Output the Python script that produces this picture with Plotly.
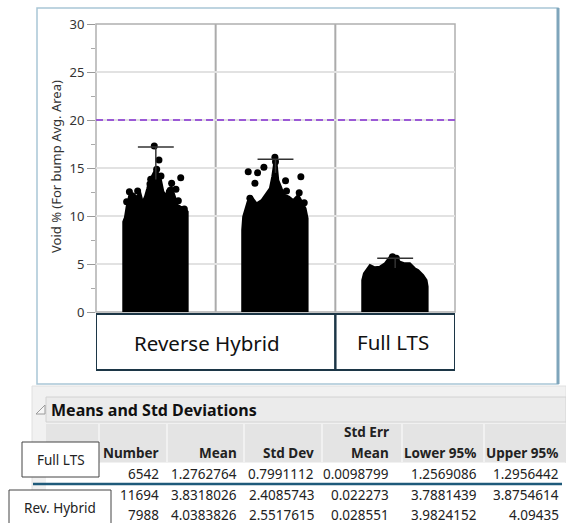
import plotly.graph_objects as go

# ---------------- data ----------------
y_title = "Void % (For bump Avg. Area)"
y_ticks = [0, 5, 10, 15, 20, 25, 30]
limit_line = 20

group_labels = ["Reverse Hybrid", "Full LTS"]
group_spans = [[0, 2], [2, 3]]
group_centers = [0.5, 1.5, 2.5]

# top outline of the dense point cloud (jitter offset, value)
g1_outline_off = [-0.272, -0.258, -0.244, -0.221, -0.194, -0.160, -0.132, -0.110, -0.091, -0.071, -0.054,
                  -0.035, -0.007, 0.021, 0.040, 0.063, 0.085, 0.104, 0.132, 0.160, 0.180, 0.207, 0.244, 0.266]
g1_outline_val = [9.41, 9.86, 10.97, 12.19, 12.36, 12.01, 12.53, 11.49, 12.01, 12.88, 13.75,
                  14.10, 14.79, 14.44, 13.92, 12.53, 12.19, 12.88, 13.06, 12.01, 11.15, 10.97, 10.80, 10.45]
g2_outline_off = [-0.278, -0.270, -0.256, -0.233, -0.200, -0.158, -0.116, -0.075, -0.047, -0.027, -0.011,
                  0.009, 0.023, 0.051, 0.079, 0.112, 0.148, 0.190, 0.223, 0.251, 0.268]
g2_outline_val = [8.54, 9.93, 10.45, 11.49, 12.01, 11.32, 11.67, 12.36, 12.88, 14.10, 15.49,
                  15.49, 13.75, 12.88, 12.19, 12.01, 11.67, 12.19, 11.49, 10.80, 9.76]
g3_outline_off = [-0.275, -0.261, -0.240, -0.211, -0.169, -0.128, -0.086, -0.044, -0.016, 0.012, 0.040,
                  0.081, 0.123, 0.165, 0.192, 0.234, 0.262, 0.271]
g3_outline_val = [3.33, 4.03, 4.44, 4.90, 4.65, 4.72, 5.07, 5.76, 5.83, 5.59, 5.24,
                  5.07, 5.07, 4.55, 4.38, 3.85, 3.33, 2.64]

# individual visible points above the cloud (jitter offset, value)
g1_pts_off = [-0.013, 0.026, 0.007, -0.043, 0.043, 0.208, 0.132, 0.168, 0.113, -0.152, -0.221, -0.196, -0.244, 0.188, 0.238, -0.049]
g1_pts_val = [17.29, 15.83, 14.86, 13.82, 14.17, 13.99, 13.40, 12.78, 12.53, 12.60, 12.53, 12.08, 11.49, 11.60, 10.73, 13.33]
g2_pts_off = [-0.005, 0.000, -0.228, -0.150, -0.097, -0.172, 0.212, 0.084, 0.092, 0.198, 0.240, -0.214]
g2_pts_val = [16.11, 15.66, 14.62, 14.51, 15.07, 13.40, 14.10, 13.68, 12.60, 12.43, 11.39, 11.84]
g3_pts_off = [-0.022, 0.010]
g3_pts_val = [5.76, 5.60]

group_max = [17.2, 15.9, 5.6]

# table
table_title = "Means and Std Deviations"
col_headers = ["Number", "Mean", "Std Dev", "Std Err\nMean", "Lower 95%", "Upper 95%"]
row_number = ["6542", "11694", "7988"]
row_mean = ["1.2762764", "3.8318026", "4.0383826"]
row_std = ["0.7991112", "2.4085743", "2.5517615"]
row_sem = ["0.0098799", "0.022273", "0.028551"]
row_low = ["1.2569086", "3.7881439", "3.9824152"]
row_up = ["1.2956442", "3.8754614", "4.09435"]
row_tags = ["Full LTS", "Rev. Hybrid"]

# ---------------- figure ----------------
W, H = 566, 523
FONT = "Noto Sans"


def px(x):
    return x / W


def py(y):
    return 1 - y / H


fig = go.Figure()

outlines = [(g1_outline_off, g1_outline_val), (g2_outline_off, g2_outline_val), (g3_outline_off, g3_outline_val)]
points = [(g1_pts_off, g1_pts_val), (g2_pts_off, g2_pts_val), (g3_pts_off, g3_pts_val)]

for c, (offs, vals), (poffs, pvals), mx in zip(group_centers, outlines, points, group_max):
    xs = [c + offs[0]] + [c + o for o in offs] + [c + offs[-1]]
    ys = [0] + list(vals) + [0]
    fig.add_trace(go.Scatter(x=xs, y=ys, mode="lines", fill="toself", fillcolor="black",
                             line=dict(color="black", width=2), hoverinfo="skip", showlegend=False))
    fig.add_trace(go.Scatter(x=[c + o for o in poffs], y=pvals, mode="markers",
                             marker=dict(color="black", size=7), hoverinfo="skip", showlegend=False))
    # max whisker
    fig.add_trace(go.Scatter(x=[c - 0.15, c + 0.15, None, c, c], y=[mx, mx, None, mx, vals[len(vals) // 2] - 1],
                             mode="lines", line=dict(color="#333", width=1.5),
                             hoverinfo="skip", showlegend=False))

fig.update_layout(
    width=W, height=H, margin=dict(l=0, r=0, t=0, b=0, autoexpand=False),
    paper_bgcolor="white", plot_bgcolor="white",
    font=dict(family=FONT, color="#333"),
    xaxis=dict(domain=[px(96), px(455)], range=[0, 3], showticklabels=False, showgrid=False,
               zeroline=False, showline=False, ticks=""),
    yaxis=dict(domain=[py(312), py(24)], range=[0, 30], tickvals=y_ticks, ticks="outside", ticklen=8,
               tickcolor="#999", tickfont=dict(size=13, color="#333"), showgrid=True,
               gridcolor="#e2e2e2", gridwidth=1.5, zeroline=False, showline=False,
               minor=dict(dtick=2.5, tick0=0, ticks="outside", ticklen=4, tickcolor="#aaa", showgrid=False)),
)

shapes = []
# outer report frame
shapes.append(dict(type="rect", xref="paper", yref="paper", x0=px(37), x1=px(558), y0=py(384), y1=py(8),
                   line=dict(color="#a9c6d6", width=1.5), layer="below"))
shapes.append(dict(type="line", xref="paper", yref="paper", x0=px(558), x1=px(558), y0=py(384), y1=py(8),
                   line=dict(color="#7fa5bb", width=3)))
# dividers and border
for xv in [1, 2]:
    shapes.append(dict(type="line", xref="x", yref="y domain", x0=xv, x1=xv, y0=0, y1=1,
                       line=dict(color="#ababab", width=2), layer="below"))
shapes.append(dict(type="rect", xref="x domain", yref="y domain", x0=0, x1=1, y0=0, y1=1,
                   line=dict(color="#b0b0b0", width=1.5), layer="below"))
# limit line
shapes.append(dict(type="line", xref="x domain", yref="y", x0=0, x1=1, y0=limit_line, y1=limit_line,
                   line=dict(color="#9b59d6", width=2, dash="7px,4px")))
# category label boxes
for (a, b) in group_spans:
    shapes.append(dict(type="rect", xref="x", yref="paper", x0=a, x1=b, y0=py(370), y1=py(314),
                       line=dict(color="#1c3646", width=2)))

# table panel
shapes.append(dict(type="rect", xref="paper", yref="paper", x0=px(32), x1=1, y0=0, y1=py(386),
                   fillcolor="#f1f1f1", line=dict(color="#e0e0e0", width=1)))
shapes.append(dict(type="rect", xref="paper", yref="paper", x0=px(46), x1=1, y0=py(422), y1=py(397),
                   fillcolor="#ebebeb", line=dict(color="#d2d2d2", width=1)))
shapes.append(dict(type="path", xref="paper", yref="paper",
                   path=f"M {px(36)},{py(414)} L {px(45)},{py(405)} L {px(45)},{py(414)} Z",
                   line=dict(color="#9a9a9a", width=1), fillcolor="#f6f6f6"))
col_edges = [(46, 98), (100, 166), (168, 243), (245, 321), (323, 401), (403, 483), (485, 566)]
for a, b in col_edges:
    shapes.append(dict(type="rect", xref="paper", yref="paper", x0=px(a), x1=px(b), y0=py(462), y1=py(424),
                       fillcolor="#e4e4e4", line=dict(width=0)))
shapes.append(dict(type="rect", xref="paper", yref="paper", x0=px(46), x1=1, y0=0, y1=py(463),
                   fillcolor="white", line=dict(width=0)))
shapes.append(dict(type="line", xref="paper", yref="paper", x0=px(33), x1=px(562), y0=py(484), y1=py(484),
                   line=dict(color="#1e5a7a", width=2.5)))
# overlay tag boxes
shapes.append(dict(type="rect", xref="paper", yref="paper", x0=px(22), x1=px(99), y0=py(477), y1=py(442),
                   fillcolor="white", line=dict(color="#444", width=1)))
shapes.append(dict(type="rect", xref="paper", yref="paper", x0=px(9), x1=px(111), y0=py(524), y1=py(490),
                   fillcolor="white", line=dict(color="#444", width=1)))
fig.update_layout(shapes=shapes)


def A(text, x, y, size, color="#222", xanchor="center", **kw):
    d = dict(text=text, xref="paper", yref="paper", x=x, y=y, xanchor=xanchor, yanchor="middle",
             showarrow=False, font=dict(size=size, color=color))
    d.update(kw)
    return d


ann = []
ann.append(A(y_title, px(56), py(167), 13, "#333", textangle=-90))
ann.append(dict(text=group_labels[0], xref="x", yref="paper", x=sum(group_spans[0]) / 2, y=py(343),
                xanchor="center", yanchor="middle", xshift=-9, showarrow=False, font=dict(size=20.5, color="#111")))
ann.append(dict(text=group_labels[1], xref="x", yref="paper", x=sum(group_spans[1]) / 2, y=py(342),
                xanchor="center", yanchor="middle", xshift=-2, showarrow=False, font=dict(size=20.5, color="#111")))
ann.append(A("<b>" + table_title + "</b>", px(49), py(410), 16, "#111", xanchor="left"))

col_right = [161, 239, 316, 391, 479, 561]
for h, xr in zip(col_headers, col_right):
    parts = h.split("\n")
    if len(parts) == 2:
        ann.append(A("<b>" + parts[0] + "</b>", px(xr), py(432), 13.5, xanchor="right"))
        ann.append(A("<b>" + parts[1] + "</b>", px(xr), py(453), 13.5, xanchor="right"))
    else:
        ann.append(A("<b>" + h + "</b>", px(xr), py(453), 13.5, xanchor="right"))

row_y = [474, 495, 515]
cols = [row_number, row_mean, row_std, row_sem, row_low, row_up]
for ri, yy in enumerate(row_y):
    for col, xr in zip(cols, col_right):
        ann.append(A(col[ri], px(xr), py(yy), 13.5, xanchor="right"))

ann.append(A(row_tags[0], px(60.5), py(460), 13.5))
ann.append(A(row_tags[1], px(60), py(508), 13.5))
fig.update_layout(annotations=ann)

fig.write_html("out.html")
